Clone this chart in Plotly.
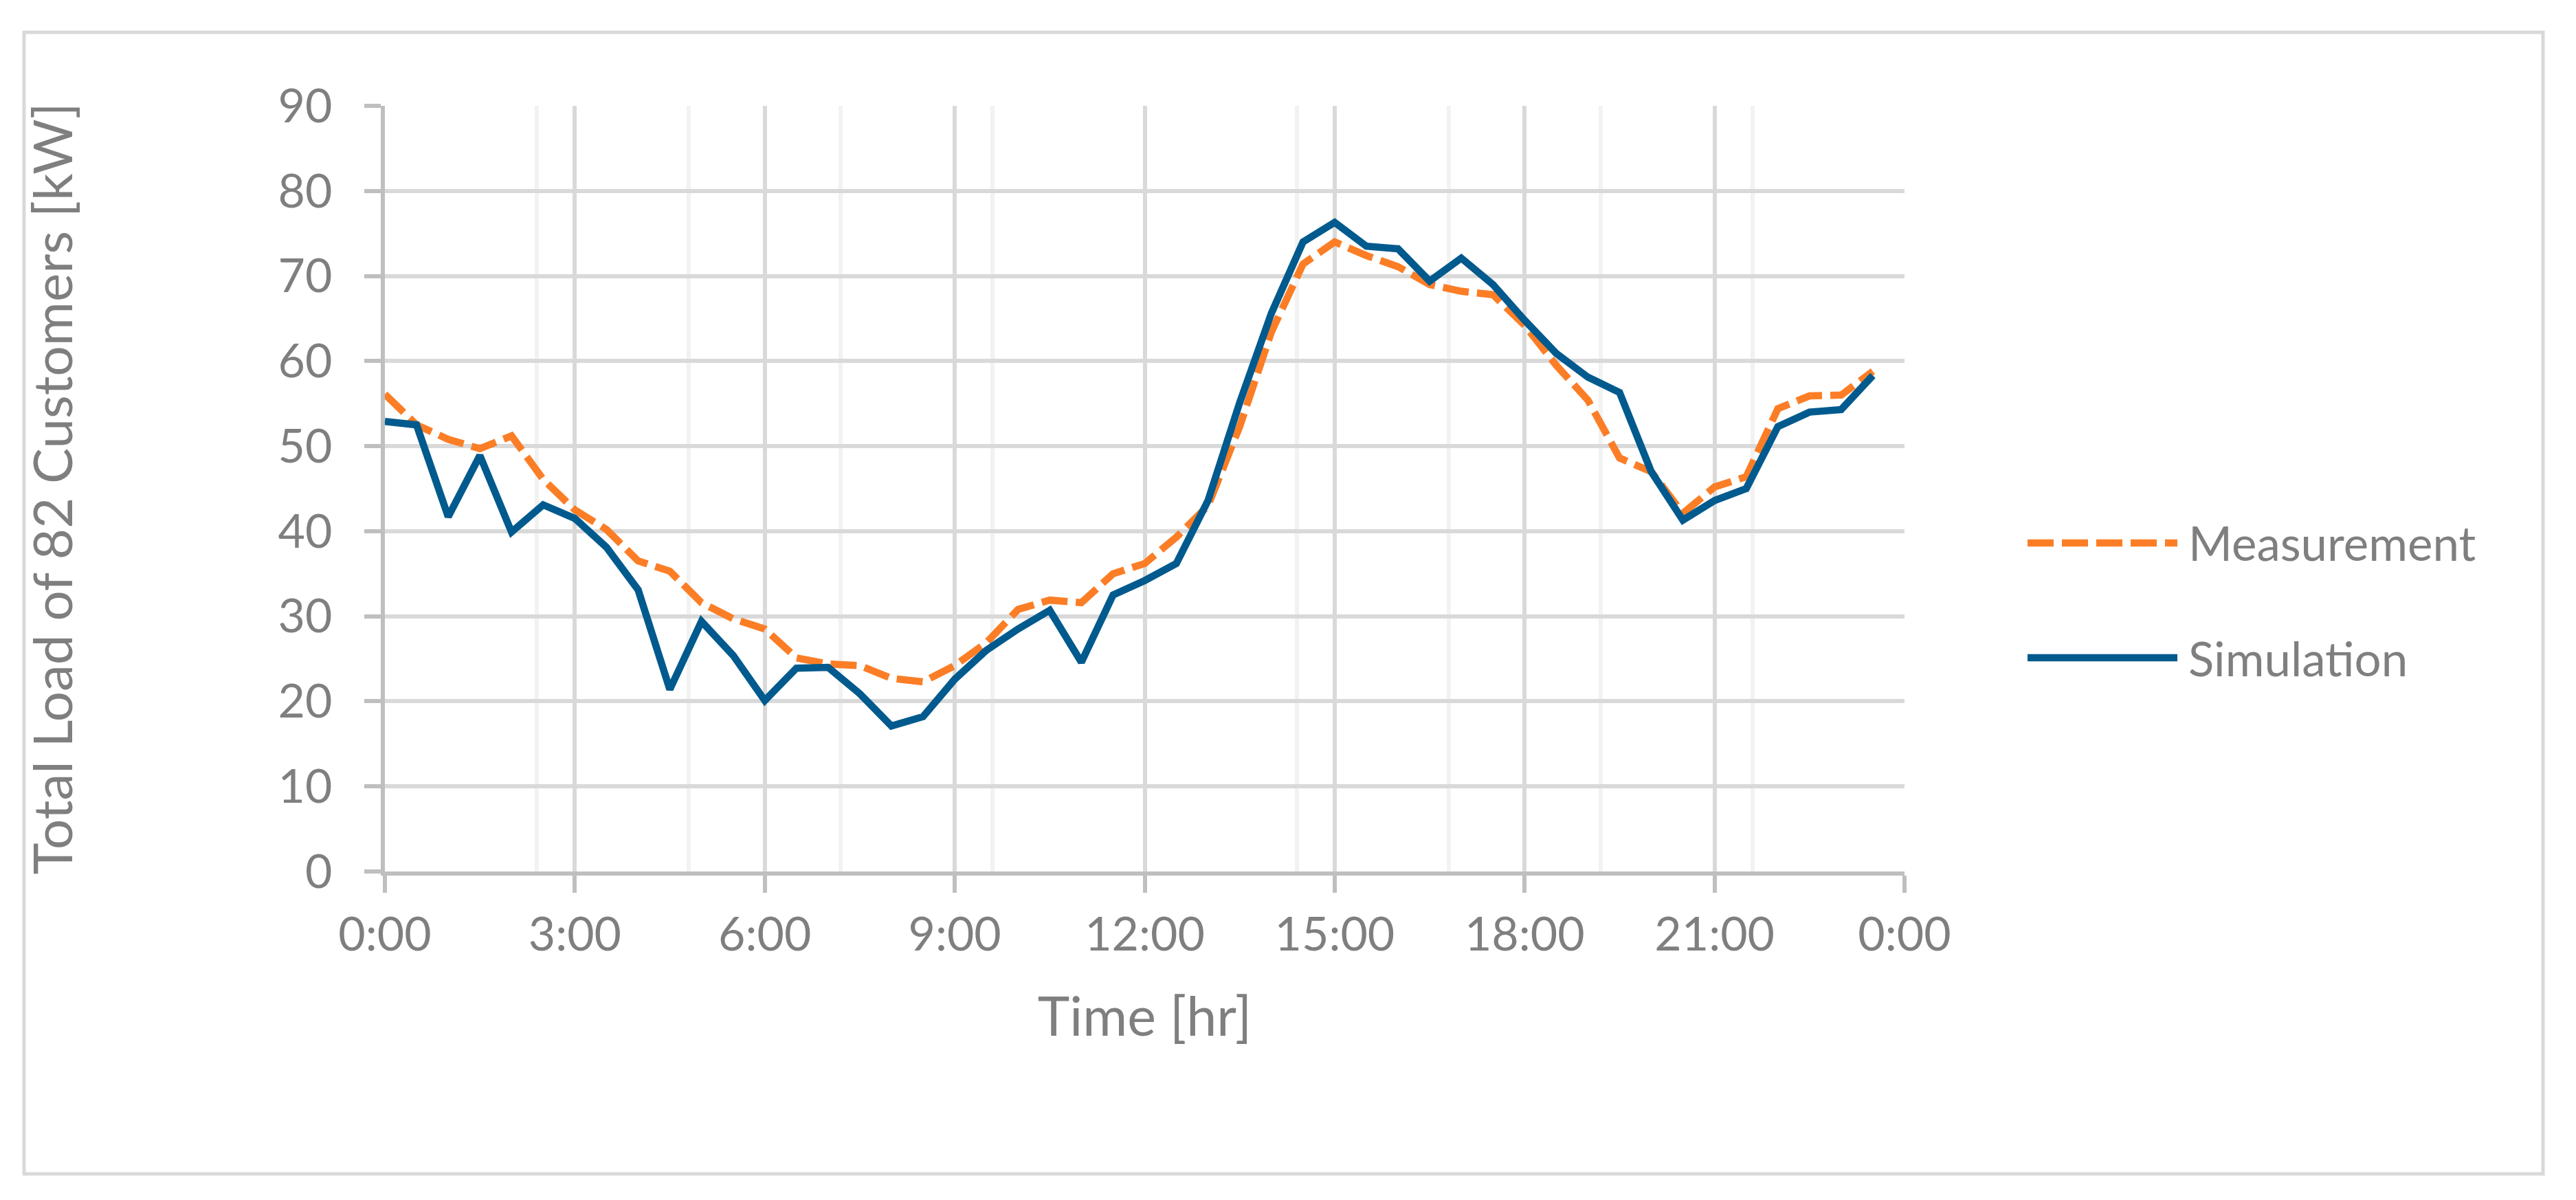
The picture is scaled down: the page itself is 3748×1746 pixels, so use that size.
import plotly.graph_objects as go

# ---------------- data ----------------
hours = [0, 0.5, 1, 1.5, 2, 2.5, 3, 3.5, 4, 4.5, 5, 5.5, 6, 6.5, 7, 7.5,
         8, 8.5, 9, 9.5, 10, 10.5, 11, 11.5, 12, 12.5, 13, 13.5, 14, 14.5, 15, 15.5,
         16, 16.5, 17, 17.5, 18, 18.5, 19, 19.5, 20, 20.5, 21, 21.5, 22, 22.5, 23, 23.5]

measurement = [56.1, 52.5, 50.8, 49.7, 51.2, 46.1, 42.5, 40.2, 36.5, 35.3, 31.6, 29.7,
               28.5, 25.1, 24.4, 24.2, 22.7, 22.3, 24.2, 26.9, 30.8, 31.9, 31.6, 35.0,
               36.2, 39.3, 43.0, 52.3, 63.4, 71.4, 74.0, 72.4, 71.1, 69.0, 68.2, 67.8,
               64.2, 59.5, 55.4, 48.6, 47.0, 42.1, 45.2, 46.4, 54.4, 55.9, 56.0, 58.8]

simulation = [52.9, 52.5, 41.7, 48.9, 39.9, 43.1, 41.5, 38.1, 33.1, 21.4, 29.4, 25.4,
              20.1, 23.9, 24.0, 20.9, 17.1, 18.2, 22.6, 26.0, 28.5, 30.7, 24.6, 32.5,
              34.2, 36.2, 43.6, 55.1, 65.6, 74.0, 76.3, 73.5, 73.2, 69.4, 72.1, 69.0,
              64.8, 60.9, 58.1, 56.3, 47.0, 41.3, 43.6, 45.0, 52.3, 54.0, 54.3, 58.3]

x_tick_vals = [0, 3, 6, 9, 12, 15, 18, 21, 24]
x_tick_text = ["0:00", "3:00", "6:00", "9:00", "12:00", "15:00", "18:00", "21:00", "0:00"]
y_tick_vals = [0, 10, 20, 30, 40, 50, 60, 70, 80, 90]

series_names = ["Measurement", "Simulation"]
# ---------------- style ----------------
W, H = 3748, 1746
L, R, T, B = 552, 2763, 146, 1260
ORANGE = "#FB7E27"
BLUE = "#005A8E"
TXT = "#7F7F7F"
GRID = "#D9D9D9"
MINOR = "#F2F2F2"
AXIS = "#BFBFBF"
FONT = "Lato, 'Open Sans', sans-serif"
DASH = "38px,12px"


def px_x(p):
    return (p - L) / (R - L)


def px_y(p):
    return (B - p) / (B - T)


fig = go.Figure()
fig.add_trace(go.Scatter(x=hours, y=measurement, mode="lines", name=series_names[0],
                         line=dict(color=ORANGE, width=10.5, dash=DASH),
                         showlegend=False))
fig.add_trace(go.Scatter(x=hours, y=simulation, mode="lines", name=series_names[1],
                         line=dict(color=BLUE, width=10.5),
                         showlegend=False))

fig.update_layout(
    width=W, height=H,
    margin=dict(l=L, r=W - R, t=T, b=H - B, autoexpand=False),
    paper_bgcolor="white", plot_bgcolor="white",
    font=dict(family=FONT, color=TXT),
)

fig.update_xaxes(
    range=[0, 24], tickmode="array", tickvals=x_tick_vals, ticktext=x_tick_text,
    showgrid=True, gridcolor=GRID, gridwidth=6,
    minor=dict(tickmode="linear", tick0=0, dtick=2.4, showgrid=True,
               gridcolor=MINOR, gridwidth=6, ticks=""),
    showline=True, linecolor=AXIS, linewidth=6,
    ticks="outside", ticklen=25, tickwidth=6, tickcolor=AXIS,
    tickfont=dict(size=68, color=TXT, family=FONT), ticklabelstandoff=2,
    zeroline=False, automargin=False,
    title=dict(text="Time [hr]", font=dict(size=79, color=TXT, family=FONT), standoff=58),
)
fig.update_yaxes(
    range=[0, 90], tickmode="array", tickvals=y_tick_vals,
    showgrid=True, gridcolor=GRID, gridwidth=6,
    showline=True, linecolor=AXIS, linewidth=6,
    ticks="outside", ticklen=24, tickwidth=6, tickcolor=AXIS,
    tickfont=dict(size=68, color=TXT, family=FONT), ticklabelstandoff=33,
    zeroline=False, automargin=False,
    title=dict(text="Total Load of 82 Customers [kW]",
               font=dict(size=78, color=TXT, family=FONT), standoff=275),
)

shapes = [
    dict(type="rect", xref="paper", yref="paper",
         x0=px_x(27), x1=px_x(3692), y0=px_y(1700), y1=px_y(39),
         line=dict(color=GRID, width=5), fillcolor="rgba(0,0,0,0)", layer="below"),
    dict(type="line", xref="paper", yref="paper",
         x0=px_x(2942), x1=px_x(3160), y0=px_y(782), y1=px_y(782),
         line=dict(color=ORANGE, width=10.5, dash=DASH)),
    dict(type="line", xref="paper", yref="paper",
         x0=px_x(2942), x1=px_x(3160), y0=px_y(949), y1=px_y(949),
         line=dict(color=BLUE, width=10.5)),
]
annotations = [
    dict(text=series_names[0], xref="paper", yref="paper", x=px_x(3174), y=px_y(782),
         xanchor="left", yanchor="middle", showarrow=False,
         font=dict(size=69, color=TXT, family=FONT)),
    dict(text=series_names[1], xref="paper", yref="paper", x=px_x(3174), y=px_y(949),
         xanchor="left", yanchor="middle", showarrow=False,
         font=dict(size=69, color=TXT, family=FONT)),
]
fig.update_layout(shapes=shapes, annotations=annotations)

fig.write_html("out.html")
